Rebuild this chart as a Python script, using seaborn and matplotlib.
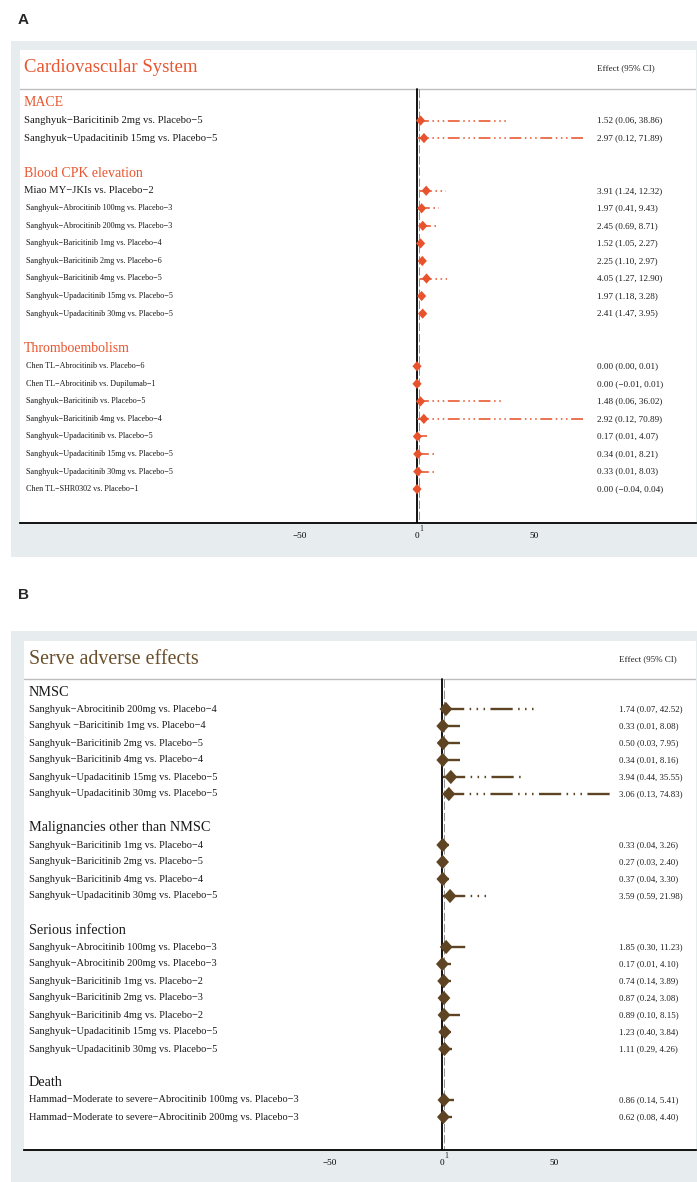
import numpy as np
import pandas as pd
import matplotlib
matplotlib.use("Agg")
import matplotlib.pyplot as plt
from matplotlib.patches import Rectangle
import seaborn as sns

# ---------------- data : panel A ----------------
a_title = "Cardiovascular System"
a_groups = ["MACE", "Blood CPK elevation", "Thromboembolism"]
a_group_sizes = [2, 8, 8]
a_labels = [
    "Sanghyuk−Baricitinib 2mg vs. Placebo−5",
    "Sanghyuk−Upadacitinib 15mg vs. Placebo−5",
    "Miao MY−JKIs vs. Placebo−2",
    "Sanghyuk−Abrocitinib 100mg vs. Placebo−3",
    "Sanghyuk−Abrocitinib 200mg vs. Placebo−3",
    "Sanghyuk−Baricitinib 1mg vs. Placebo−4",
    "Sanghyuk−Baricitinib 2mg vs. Placebo−6",
    "Sanghyuk−Baricitinib 4mg vs. Placebo−5",
    "Sanghyuk−Upadacitinib 15mg vs. Placebo−5",
    "Sanghyuk−Upadacitinib 30mg vs. Placebo−5",
    "Chen TL−Abrocitinib vs. Placebo−6",
    "Chen TL−Abrocitinib vs. Dupilumab−1",
    "Sanghyuk−Baricitinib vs. Placebo−5",
    "Sanghyuk−Baricitinib 4mg vs. Placebo−4",
    "Sanghyuk−Upadacitinib vs. Placebo−5",
    "Sanghyuk−Upadacitinib 15mg vs. Placebo−5",
    "Sanghyuk−Upadacitinib 30mg vs. Placebo−5",
    "Chen TL−SHR0302 vs. Placebo−1",
]
a_est = [1.52, 2.97, 3.91, 1.97, 2.45, 1.52, 2.25, 4.05, 1.97, 2.41,
         0.00, 0.00, 1.48, 2.92, 0.17, 0.34, 0.33, 0.00]
a_lo = [0.06, 0.12, 1.24, 0.41, 0.69, 1.05, 1.10, 1.27, 1.18, 1.47,
        0.00, -0.01, 0.06, 0.12, 0.01, 0.01, 0.01, -0.04]
a_hi = [38.86, 71.89, 12.32, 9.43, 8.71, 2.27, 2.97, 12.90, 3.28, 3.95,
        0.01, 0.01, 36.02, 70.89, 4.07, 8.21, 8.03, 0.04]

# ---------------- data : panel B ----------------
b_title = "Serve adverse effects"
b_groups = ["NMSC", "Malignancies other than NMSC", "Serious infection", "Death"]
b_group_sizes = [6, 4, 7, 2]
b_labels = [
    "Sanghyuk−Abrocitinib 200mg vs. Placebo−4",
    "Sanghyuk −Baricitinib 1mg vs. Placebo−4",
    "Sanghyuk−Baricitinib 2mg vs. Placebo−5",
    "Sanghyuk−Baricitinib 4mg vs. Placebo−4",
    "Sanghyuk−Upadacitinib 15mg vs. Placebo−5",
    "Sanghyuk−Upadacitinib 30mg vs. Placebo−5",
    "Sanghyuk−Baricitinib 1mg vs. Placebo−4",
    "Sanghyuk−Baricitinib 2mg vs. Placebo−5",
    "Sanghyuk−Baricitinib 4mg vs. Placebo−4",
    "Sanghyuk−Upadacitinib 30mg vs. Placebo−5",
    "Sanghyuk−Abrocitinib 100mg vs. Placebo−3",
    "Sanghyuk−Abrocitinib 200mg vs. Placebo−3",
    "Sanghyuk−Baricitinib 1mg vs. Placebo−2",
    "Sanghyuk−Baricitinib 2mg vs. Placebo−3",
    "Sanghyuk−Baricitinib 4mg vs. Placebo−2",
    "Sanghyuk−Upadacitinib 15mg vs. Placebo−5",
    "Sanghyuk−Upadacitinib 30mg vs. Placebo−5",
    "Hammad−Moderate to severe−Abrocitinib 100mg vs. Placebo−3",
    "Hammad−Moderate to severe−Abrocitinib 200mg vs. Placebo−3",
]
b_est = [1.74, 0.33, 0.50, 0.34, 3.94, 3.06,
         0.33, 0.27, 0.37, 3.59,
         1.85, 0.17, 0.74, 0.87, 0.89, 1.23, 1.11,
         0.86, 0.62]
b_lo = [0.07, 0.01, 0.03, 0.01, 0.44, 0.13,
        0.04, 0.03, 0.04, 0.59,
        0.30, 0.01, 0.14, 0.24, 0.10, 0.40, 0.29,
        0.14, 0.08]
b_hi = [42.52, 8.08, 7.95, 8.16, 35.55, 74.83,
        3.26, 2.40, 3.30, 21.98,
        11.23, 4.10, 3.89, 3.08, 8.15, 3.84, 4.26,
        5.41, 4.40]

x_ticks = [-50, 0, 50]
x_tick_labels = ["−50", "0", "50"]
ref_value = 1
effect_header = "Effect (95% CI)"

# ---------------- style ----------------
sns.set_style("white")
plt.rcParams["font.family"] = ["Liberation Serif", "DejaVu Serif"]
plt.rcParams["lines.scale_dashes"] = False

W, H = 697, 1182
fig = plt.figure(figsize=(W / 100, H / 100), dpi=100)
BG = "#e7ecef"


def fmt(v):
    return f"{v:.2f}".replace("-", "−")


def draw_panel(letter, letter_y, title, groups, sizes, labels, est, lo, hi, st):
    L, T, R, B = st["box"]
    gx0, gy0, gy1 = st["gray"]
    fig.patches.append(Rectangle((gx0 / W, 1 - gy1 / H), (W - gx0) / W, (gy1 - gy0) / H,
                                 transform=fig.transFigure, facecolor=BG,
                                 edgecolor="none", zorder=-10))
    fig.text(18 / W, 1 - letter_y / H, letter, family="Liberation Sans",
             fontweight="bold", fontsize=11, va="center", ha="left")
    ax = fig.add_axes([L / W, 1 - B / H, (R - L) / W, (B - T) / H])
    ax.set_zorder(5)
    ax.set_facecolor("white")
    zero, ppu, row0, rowh = st["zero"], st["ppu"], st["row0"], st["rowh"]
    xl = ((L - zero) / ppu, (R - zero) / ppu)
    yl = ((B - row0) / rowh, (T - row0) / rowh)

    def xd(px):
        return (px - zero) / ppu

    def yd(py):
        return (py - row0) / rowh

    # row positions
    ys, hdr = [], []
    idx = 0
    for g, n in zip(groups, sizes):
        hdr.append((idx, g))
        ys.extend(range(idx + 1, idx + 1 + n))
        idx += n + 2
    df = pd.DataFrame({"label": labels, "est": est, "lo": lo, "hi": hi, "y": ys})

    sep = yd(st["sep"])
    ax.plot(xl, [sep, sep], color="#bdbdbd", lw=1.0, zorder=1)
    ax.plot([0, 0], [sep, yl[0]], color="black", lw=1.3, zorder=2)
    ax.plot([ref_value, ref_value], [sep, yl[0]], color="#8f8f8f", lw=0.7,
            dashes=(6, 2), zorder=2)

    for _, r in df.iterrows():
        ax.plot([r["lo"], r["hi"]], [r["y"], r["y"]], color=st["color"],
                lw=st["lw"], dashes=st["dashes"], dash_capstyle="butt",
                solid_capstyle="butt", zorder=3)
    sns.scatterplot(data=df, x="est", y="y", ax=ax, marker=st["marker"],
                    s=st["ms"], color=st["color"], edgecolor="none",
                    linewidth=0, zorder=4, legend=False)

    ty = yd(st["title_y"])
    ax.text(xd(st["title_x"]), ty, title, color=st["title_color"],
            fontsize=st["title_fs"], va="center", ha="left")
    ax.text(xd(st["eff_x"]), ty, effect_header, fontsize=6.5, va="center",
            ha="left", color="#222222")
    for i, g in hdr:
        ax.text(xd(st["hdr_x"]), i, g, color=st["hdr_color"], fontsize=st["hdr_fs"],
                va="center", ha="left")
    for k, r in df.iterrows():
        fs = st["label_fs"](k)
        ax.text(xd(st["label_x"](k)), r["y"], r["label"], fontsize=fs,
                va="center", ha="left", color="#1a1a1a")
        ax.text(xd(st["eff_x"]), r["y"],
                f"{fmt(r['est'])} ({fmt(r['lo'])}, {fmt(r['hi'])})",
                fontsize=st["eff_fs"], va="center", ha="left", color="#1a1a1a")

    ax.set_xlim(xl)
    ax.set_ylim(yl)
    ax.set_xlabel("")
    ax.set_ylabel("")
    ax.set_yticks([])
    ax.set_xticks(x_ticks)
    ax.set_xticklabels(x_tick_labels)
    ax.tick_params(axis="x", length=4.3, width=1.1, direction="out", pad=2.5,
                   labelsize=6.6, colors="black")
    for s in ["top", "left", "right"]:
        ax.spines[s].set_visible(False)
    ax.spines["bottom"].set_color("black")
    ax.spines["bottom"].set_linewidth(1.3)
    ax.annotate("1", xy=(ref_value, yl[0]), xycoords="data",
                xytext=(0.2, -1.5), textcoords="offset points",
                fontsize=5.8, ha="left", va="top", annotation_clip=False)
    return ax


diamond = [(0, 1), (0.9, 0), (0, -1), (-0.9, 0)]

draw_panel("A", 20, a_title, a_groups, a_group_sizes, a_labels, a_est, a_lo, a_hi, dict(
    box=(20, 50, 696, 523), gray=(11, 41, 557),
    zero=417, ppu=2.35, row0=103, rowh=17.55, sep=89, title_y=68,
    title_x=24, hdr_x=24, eff_x=597,
    color="#e8522c", title_color="#e8552f", hdr_color="#e8552f",
    title_fs=13.5, hdr_fs=10,
    label_fs=lambda k: 7.7 if k < 3 else 5.9,
    label_x=lambda k: 24 if k < 3 else 26,
    eff_fs=6.6, lw=1.15, dashes=(8.5, 2.6, 1.1, 2.6, 1.1, 2.6, 1.1, 2.6),
    marker=diamond, ms=54,
))

draw_panel("B", 595, b_title, b_groups, b_group_sizes, b_labels, b_est, b_lo, b_hi, dict(
    box=(24, 641, 696, 1150), gray=(11, 631, 1182),
    zero=442, ppu=2.24, row0=692, rowh=17.0, sep=679, title_y=659,
    title_x=29, hdr_x=29, eff_x=619,
    color="#5e4422", title_color="#6b4f2c", hdr_color="#1a1a1a",
    title_fs=14.4, hdr_fs=10.3,
    label_fs=lambda k: 7.5,
    label_x=lambda k: 29,
    eff_fs=6.3, lw=1.7, dashes=(16, 3.9, 1.1, 3.9, 1.1, 3.9, 1.1, 3.9),
    marker=diamond, ms=105,
))

fig.savefig("out.png", dpi=100, facecolor="white")
